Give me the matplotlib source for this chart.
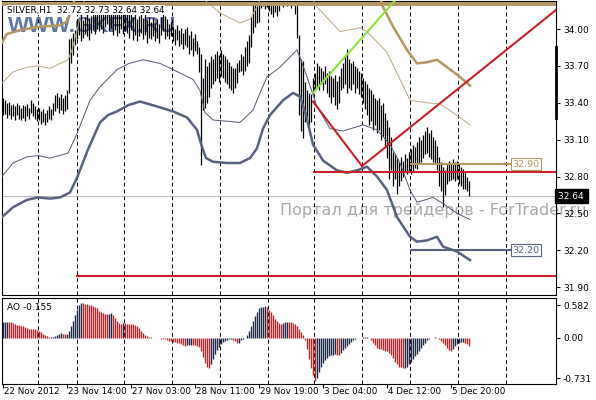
import matplotlib
matplotlib.use("Agg")
import matplotlib.pyplot as plt
import matplotlib.transforms as mtransforms
import numpy as np

plt.rcParams['font.family'] = 'DejaVu Sans'

# SILVER H1 bars, oldest first; bar index is the position on the chart
highs = [
    33.44, 33.42, 33.40, 33.41, 33.38, 33.39, 33.37, 33.40, 33.38, 33.36,
    33.38, 33.37, 33.39, 33.36, 33.42, 33.40, 33.37, 33.35, 33.36, 33.33,
    33.35, 33.32, 33.34, 33.37, 33.35, 33.40, 33.46, 33.48, 33.45, 33.47,
    33.44, 33.46, 33.50, 33.92, 33.93, 33.97, 33.99,
    34.08, 34.10, 34.12, 34.07, 34.10, 34.13, 34.09, 34.11, 34.14, 34.12, 34.15, 34.13,
    34.18, 34.15, 34.17, 34.20, 34.16, 34.19, 34.14, 34.17, 34.12, 34.15, 34.18, 34.13, 34.16,
    34.15, 34.12, 34.17, 34.10, 34.13, 34.08, 34.11, 34.14, 34.09, 34.12, 34.07, 34.10,
    34.06, 34.09, 34.05, 34.08, 34.04, 34.10, 34.13, 34.11, 34.08,
    34.04, 34.06, 34.02, 34.00, 34.03, 33.99, 34.01, 33.97, 34.00, 34.02, 33.95, 33.98, 33.93, 33.96, 33.90,
    33.85, 33.80, 33.60, 33.76, 33.70, 33.73, 33.78, 33.76, 33.80, 33.82, 33.79,
    33.83, 33.80, 33.78, 33.76, 33.73, 33.70, 33.68, 33.68, 33.72,
    33.75, 33.80, 33.78, 33.85, 33.90, 33.95,
    34.10, 34.20, 34.25, 34.26, 34.24,
    34.30, 34.28, 34.30, 34.29, 34.31, 34.28, 34.27, 34.29, 34.26, 34.28,
    34.30, 34.30, 34.30, 34.30, 34.30, 34.30, 34.30,
    34.28, 34.26, 33.95, 33.76, 33.74, 33.57, 33.50, 33.48, 33.47, 33.60, 33.64,
    33.72, 33.70, 33.68, 33.66, 33.70, 33.64, 33.66, 33.62, 33.60, 33.63, 33.58, 33.62,
    33.68, 33.72, 33.78, 33.84, 33.76, 33.72, 33.74, 33.70, 33.68, 33.66, 33.64, 33.60,
    33.58, 33.55, 33.52, 33.50, 33.47, 33.44, 33.42, 33.44, 33.38, 33.40, 33.32, 33.26, 33.20, 33.12,
    33.00, 32.98, 32.95, 32.92, 32.96, 32.93, 32.98, 32.95, 33.00,
    33.02, 33.06, 33.04, 33.08, 33.12, 33.10, 33.14, 33.17, 33.20, 33.15, 33.18, 33.12, 33.10, 33.05, 32.96,
    32.92, 32.88, 32.85,
    32.90, 32.93, 32.91, 32.94, 32.92, 32.93, 32.90, 32.88, 32.86, 32.84, 32.80, 32.76,
]
lows = [
    33.30, 33.31, 33.28, 33.30, 33.27, 33.29, 33.26, 33.30, 33.27, 33.26,
    33.28, 33.25, 33.29, 33.27, 33.32, 33.29, 33.27, 33.25, 33.26, 33.23,
    33.24, 33.22, 33.24, 33.27, 33.26, 33.30, 33.33, 33.36, 33.32, 33.34,
    33.31, 33.33, 33.35, 33.48, 33.72, 33.79, 33.87,
    33.92, 33.95, 33.90, 33.93, 33.96, 33.94, 33.91, 33.97, 33.99, 33.96, 34.00, 33.98,
    34.00, 33.97, 34.02, 34.04, 33.98, 34.01, 33.95, 33.99, 33.94, 33.97, 34.00, 33.96, 33.98,
    33.97, 33.93, 33.99, 33.91, 33.95, 33.90, 33.94, 33.97, 33.92, 33.95, 33.89, 33.93,
    33.92, 33.94, 33.90, 33.93, 33.89, 33.95, 33.98, 33.92, 33.94,
    33.92, 33.94, 33.90, 33.87, 33.91, 33.86, 33.88, 33.84, 33.87, 33.85, 33.80, 33.83, 33.78, 33.82, 33.80,
    33.65, 32.89, 33.34, 33.36, 33.40, 33.45, 33.52, 33.55, 33.58, 33.60, 33.57,
    33.62, 33.60, 33.57, 33.55, 33.52, 33.50, 33.48, 33.52, 33.56,
    33.65, 33.66, 33.63, 33.66, 33.70, 33.72,
    33.85, 33.97, 34.02, 34.05, 34.06,
    34.17, 34.19, 34.16, 34.18, 34.15, 34.12, 34.10, 34.14, 34.11, 34.15,
    34.20, 34.18, 34.22, 34.19, 34.21, 34.17, 34.20,
    34.12, 33.93, 33.30, 33.17, 33.11, 33.24, 33.27, 33.22, 33.24, 33.47, 33.50,
    33.52, 33.50, 33.55, 33.50, 33.55, 33.48, 33.45, 33.40, 33.45, 33.38, 33.35, 33.40,
    33.50, 33.52, 33.55, 33.48, 33.52, 33.50, 33.55, 33.48, 33.52, 33.47, 33.45, 33.40,
    33.35, 33.30, 33.22, 33.25, 33.18, 33.22, 33.15, 33.18, 33.10, 33.13, 33.05, 32.95, 32.78, 32.85,
    32.72, 32.78, 32.66, 32.72, 32.76, 32.80, 32.84, 32.82, 32.84,
    32.82, 32.84, 32.87, 32.86, 32.90, 32.92, 32.95, 32.98, 32.99, 32.96, 32.94, 32.92, 32.90, 32.85, 32.72,
    32.68, 32.55, 32.65,
    32.74, 32.76, 32.77, 32.78, 32.76, 32.78, 32.74, 32.72, 32.70, 32.70, 32.68, 32.64,
]

# Awesome Oscillator, one value per bar
ao = [
    0.27, 0.275, 0.28, 0.275, 0.27, 0.26, 0.24, 0.23, 0.22, 0.21,
    0.20, 0.18, 0.17, 0.16, 0.155, 0.15, 0.145, 0.14, 0.12, 0.10,
    0.07, 0.04, 0.02, 0.005, 0.01, 0.015, 0.03, 0.05, 0.065, 0.075,
    0.07, 0.065, 0.07, 0.12, 0.20, 0.30, 0.40, 0.50, 0.58, 0.62,
    0.61, 0.60, 0.595, 0.59, 0.58, 0.56, 0.54, 0.52, 0.48, 0.46,
    0.44, 0.43, 0.42, 0.43, 0.44, 0.40, 0.35, 0.30, 0.26, 0.25,
    0.255, 0.255, 0.25, 0.25, 0.245, 0.24, 0.23, 0.21, 0.17, 0.12,
    0.08, 0.05, 0.02, 0.01, 0.005, 0.0, -0.005, -0.01, -0.015, -0.02,
    -0.03, -0.035, -0.045, -0.055, -0.065, -0.075, -0.085, -0.095, -0.105, -0.115,
    -0.14, -0.145, -0.14, -0.135, -0.13, -0.135, -0.14, -0.15, -0.17, -0.25,
    -0.35, -0.46, -0.53, -0.55, -0.47, -0.38, -0.30, -0.23, -0.17, -0.12,
    -0.08, -0.06, -0.045, -0.03, -0.02, -0.04, -0.07, -0.10, -0.09, -0.05,
    -0.03, -0.01, 0.04, 0.12, 0.20, 0.30, 0.39, 0.46, 0.52, 0.55,
    0.555, 0.56, 0.55, 0.50, 0.45, 0.40, 0.34, 0.29, 0.26, 0.25,
    0.26, 0.27, 0.28, 0.28, 0.27, 0.26, 0.24, 0.21, 0.16, 0.10,
    0.04, -0.05, -0.20, -0.38, -0.55, -0.68, -0.78, -0.72, -0.62, -0.52,
    -0.45, -0.40, -0.37, -0.34, -0.32, -0.31, -0.30, -0.305, -0.31, -0.28,
    -0.23, -0.19, -0.15, -0.11, -0.08, -0.05, -0.03, -0.015, -0.005, -0.002,
    0.003, 0.004, 0.002, -0.005, -0.04, -0.09, -0.14, -0.18, -0.20, -0.21,
    -0.22, -0.235, -0.25, -0.27, -0.31, -0.37, -0.43, -0.48, -0.52, -0.535,
    -0.545, -0.54, -0.52, -0.48, -0.44, -0.39, -0.34, -0.30, -0.24, -0.18,
    -0.13, -0.09, -0.05, -0.02, -0.005, 0.0, 0.002, -0.01, -0.03, -0.06,
    -0.10, -0.14, -0.19, -0.23, -0.24, -0.20, -0.16, -0.12, -0.10, -0.085,
    -0.075, -0.09, -0.12, -0.155,
]

# band vertices (bar index, price)
wide_lower_x = [-0.5, 5, 12, 17.5, 23.5, 28.5, 33.5, 37, 42.5, 48.5, 52.5, 57, 62.5, 68.5, 77, 85,
                92, 97, 99.5, 101.5, 105, 112, 118.5, 123.5, 127, 130, 133.5, 140, 145, 148.5,
                151.5, 155, 160, 167, 172, 177, 182, 187, 192, 197, 203.5, 207, 212, 217, 220,
                227, 233.5]
wide_lower = [32.47, 32.55, 32.61, 32.63, 32.62, 32.63, 32.67, 32.79, 33.02, 33.24, 33.30, 33.33,
              33.38, 33.41, 33.37, 33.33, 33.28, 33.18, 33.04, 32.95, 32.92, 32.91, 32.91, 32.95,
              33.03, 33.19, 33.30, 33.42, 33.48, 33.45, 33.30, 33.06, 32.93, 32.85, 32.83, 32.85,
              32.88, 32.80, 32.69, 32.47, 32.31, 32.27, 32.28, 32.31, 32.23, 32.19, 32.12]

narrow_lower_x = [-0.5, 5, 12, 17.5, 23.5, 32.5, 37, 43.5, 48.5, 57, 63, 70, 78.5, 85, 95, 98.5,
                  101, 105, 118.5, 125, 128.5, 132, 138.5, 147, 148.5, 152, 157, 163.5, 170,
                  180, 187, 193.5, 198.5, 203.5, 207, 215, 220, 227, 233.5]
narrow_lower = [32.80, 32.91, 32.96, 32.97, 32.95, 32.99, 33.15, 33.42, 33.53, 33.67, 33.72,
                33.75, 33.72, 33.67, 33.59, 33.50, 33.32, 33.26, 33.24, 33.34, 33.48, 33.61,
                33.69, 33.83, 33.77, 33.61, 33.37, 33.19, 33.17, 33.22, 33.18, 33.06, 32.91,
                32.69, 32.59, 32.63, 32.58, 32.50, 32.45]

narrow_upper_x = [-0.5, 5, 12, 17.5, 23.5, 32.5, 34.5, 37, 39.5, 41.5, np.nan,
                  98.5, 102, 108.5, 118.5, 123.5, 127, 129.5, np.nan,
                  153.5, 157, 168.5, 178.5, 182, 192, 198.5, 203.5, 212, 218.5, 225, 233.5]
narrow_upper = [33.56, 33.65, 33.69, 33.70, 33.68, 33.75, 33.83, 33.99, 34.16, 34.28, np.nan,
                34.28, 34.22, 34.13, 34.05, 34.08, 34.18, 34.28, np.nan,
                34.28, 34.18, 33.98, 34.01, 33.98, 33.81, 33.59, 33.42, 33.40, 33.39, 33.32, 33.22]

wide_upper_x = [-0.5, 2, 8.5, 18.5, 28.5, 32, 34.5, 36, np.nan,
                188.5, 190, 195, 202, 207, 212, 217, 222, 228.5, 233.5]
wide_upper = [33.89, 33.96, 33.99, 34.02, 34.03, 34.06, 34.17, 34.25, np.nan,
              34.26, 34.18, 34.02, 33.83, 33.72, 33.73, 33.75, 33.69, 33.61, 33.54]

# drawn objects
green_line = ([155, 197], [33.48, 34.25])
red_down = ([155, 179.5], [33.41, 32.885])
red_up = ([179.5, 276.5], [32.885, 34.155])
red_level_hi = 32.84
red_level_lo = 31.99
top_level = 34.205
tan_level = 32.90
blue_level = 32.20
last_price = 32.64

grid_pos = [17.7, 36.8, 60.7, 84.7, 108.7, 132.7, 155.5, 179.5, 203.5, 227.5, 251.5]
tick_pos = [0, 32, 64, 96, 128, 160, 192, 224]
tick_labels = ['22 Nov 2012', '23 Nov 14:00', '27 Nov 03:00', '28 Nov 11:00',
               '29 Nov 19:00', '3 Dec 04:00', '4 Dec 12:00', '5 Dec 20:00']
price_ticks = [31.90, 32.20, 32.50, 32.80, 33.10, 33.40, 33.70, 34.00]
ao_ticks = [0.582, 0.0, -0.731]
ao_tick_labels = ['0.582', '0.00', '-0.731']

BLUE_T = '#56627f'
BLUE_N = '#4f5a76'
TAN_T = '#b39660'
TAN_N = '#bba57c'
RED = '#c8202a'
GREEN = '#8ee03c'
AO_UP = '#1c2a48'
AO_DN = '#b8242c'

W, H = 596, 400
fig = plt.figure(figsize=(W / 100, H / 100), dpi=100)
fig.patch.set_facecolor('white')

ax = fig.add_axes([2 / W, 105 / H, 554 / W, 294 / H])
ax_ao = fig.add_axes([2 / W, 16 / H, 554 / W, 86 / H])

n = len(highs)
idx = np.arange(n)

# ---- main price panel
ax.set_xlim(-0.5, 276.5)
ax.set_ylim(31.836, 34.228)
for g in grid_pos:
    ax.axvline(g, color='black', lw=0.7, ls=(0, (4, 3)), zorder=1)
ax.axhline(last_price, color='#bdbdbd', lw=0.8, zorder=1)

ax.text(6 / 554, 1 - 25 / 294, 'WWW.GKFX.RU', transform=ax.transAxes,
        fontsize=16, fontweight='bold', family='Liberation Sans', color='#4f67a0',
        alpha=0.9, va='center', ha='left', zorder=0.5)
ax.text(278 / 554, 1 - 209 / 294, 'Портал для трейдеров - ForTrader.ru',
        transform=ax.transAxes, fontsize=11.5, color='#a8a8a8',
        va='center', ha='left', zorder=0.5, clip_on=False)

ax.vlines(idx, lows, highs, color='black', lw=0.9, zorder=3)

ax.plot(wide_lower_x, wide_lower, color=BLUE_T, lw=1.8, zorder=4, solid_joinstyle='round')
ax.plot(narrow_lower_x, narrow_lower, color=BLUE_N, lw=0.7, zorder=4)
ax.plot(narrow_upper_x, narrow_upper, color=TAN_N, lw=0.7, zorder=4)
ax.plot(wide_upper_x, wide_upper, color=TAN_T, lw=1.8, zorder=4, solid_joinstyle='round')

ax.axhline(top_level, color=TAN_T, lw=2.8, zorder=5)
ax.plot(*green_line, color=GREEN, lw=1.5, zorder=5)
ax.plot(*red_down, color=RED, lw=1.5, zorder=5)
ax.plot(*red_up, color=RED, lw=1.5, zorder=5)
ax.hlines(red_level_hi, 155, 276.5, color=RED, lw=1.5, zorder=5)
ax.hlines(red_level_lo, 36.5, 276.5, color=RED, lw=1.5, zorder=5)
ax.hlines(tan_level, 203.5, 254, color=TAN_T, lw=1.5, zorder=5)
ax.hlines(blue_level, 203.5, 254, color=BLUE_T, lw=1.5, zorder=5)
ax.text(254.5, tan_level, '%.2f' % tan_level, color=TAN_T, fontsize=6.8,
        va='center', ha='left', zorder=6,
        bbox=dict(boxstyle='square,pad=0.15', fc='white', ec=TAN_T, lw=0.8))
ax.text(254.5, blue_level, '%.2f' % blue_level, color=BLUE_T, fontsize=6.8,
        va='center', ha='left', zorder=6,
        bbox=dict(boxstyle='square,pad=0.15', fc='white', ec=BLUE_T, lw=0.8))

ax.yaxis.tick_right()
ax.set_yticks(price_ticks)
ax.set_yticklabels(['%.2f' % p for p in price_ticks])
ax.tick_params(axis='y', labelsize=6.5, length=3, width=0.8, pad=2)
ax.set_xticks([])

trans_r = mtransforms.blended_transform_factory(ax.transAxes, ax.transData)
ax.text(1.003, last_price, '%.2f ' % last_price, transform=trans_r, color='white',
        fontsize=6.5, va='center', ha='left', zorder=7, clip_on=False,
        bbox=dict(boxstyle='square,pad=0.25', fc='black', ec='black'))
ax.plot([1.0, 1.0], [33.28, 33.85], transform=trans_r, color='black', lw=2.0,
        clip_on=False, zorder=7)

ax.text(5 / 554, 1 - 9 / 294, 'SILVER,H1  32.72 32.73 32.64 32.64',
        transform=ax.transAxes, fontsize=6.3, va='center', ha='left', zorder=8,
        bbox=dict(boxstyle='square,pad=0.1', fc='white', ec='none'))

for sp in ax.spines.values():
    sp.set_linewidth(0.8)

# ---- Awesome Oscillator panel
ax_ao.set_xlim(-0.5, 276.5)
ax_ao.set_ylim(-0.833, 0.708)
for g in grid_pos:
    ax_ao.axvline(g, color='black', lw=0.7, ls=(0, (4, 3)), zorder=1)
ao_arr = np.array(ao)
rising = np.concatenate([[True], ao_arr[1:] > ao_arr[:-1]])
cols = [AO_UP if r else AO_DN for r in rising]
ax_ao.vlines(np.arange(len(ao)), 0, ao_arr, colors=cols, lw=1.0, zorder=3)

ax_ao.yaxis.tick_right()
ax_ao.set_yticks(ao_ticks)
ax_ao.set_yticklabels(ao_tick_labels)
ax_ao.tick_params(axis='y', labelsize=6.5, length=3, width=0.8, pad=2)
ax_ao.set_xticks(tick_pos)
ax_ao.set_xticklabels([])
ax_ao.tick_params(axis='x', length=3, width=0.8, direction='out')
trans_b = mtransforms.offset_copy(
    mtransforms.blended_transform_factory(ax_ao.transData, ax_ao.transAxes),
    fig=fig, x=1, y=-3, units='dots')
for p, lab in zip(tick_pos, tick_labels):
    ax_ao.text(p, 0, lab, transform=trans_b, fontsize=6.3, ha='left', va='top')

ax_ao.text(5 / 554, 1 - 10 / 86, 'AO -0.155', transform=ax_ao.transAxes,
           fontsize=6.5, va='center', ha='left', zorder=8)
for sp in ax_ao.spines.values():
    sp.set_linewidth(0.8)

fig.savefig('out.png', dpi=100)
